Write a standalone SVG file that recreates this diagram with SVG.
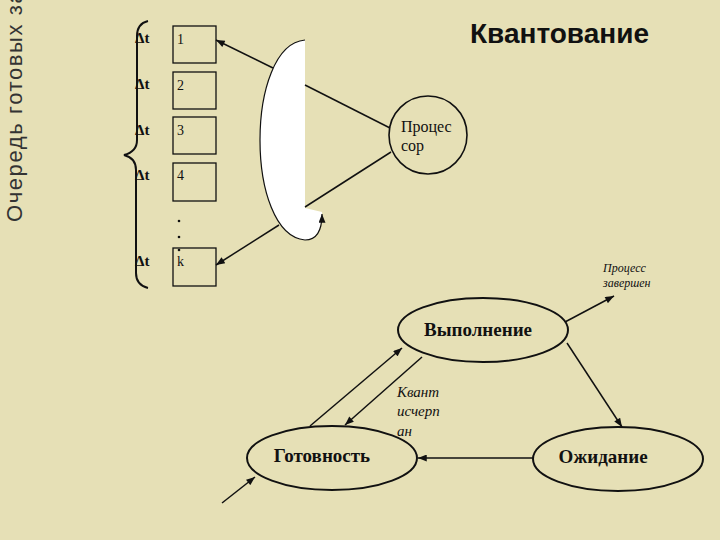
<svg xmlns="http://www.w3.org/2000/svg" width="720" height="540" viewBox="0 0 720 540">
<defs>
<marker id="ah" viewBox="0 0 10 8" refX="10" refY="4" markerUnits="userSpaceOnUse" markerWidth="10" markerHeight="7" orient="auto">
<path d="M0,0 L10,4 L0,8 Z" fill="#111"/>
</marker>
</defs>
<style>
.ln{stroke:#111;stroke-width:1.5;fill:none}
.box{fill:none;stroke:#111;stroke-width:1.3}
.num{font-family:"Liberation Serif",serif;font-size:14px;fill:#111}
.dt{font-family:"Liberation Serif",serif;font-size:15px;font-weight:bold;fill:#111}
.st{fill:none;stroke:#111;stroke-width:2}
.stt{font-family:"Liberation Serif",serif;font-size:19px;font-weight:bold;fill:#111;text-anchor:middle}
.it{font-family:"Liberation Serif",serif;font-style:italic;fill:#111}
</style>
<rect width="720" height="540" fill="#E6E0B6"/>
<text transform="translate(22,222) rotate(-90)" font-family="Liberation Sans, Arial, sans-serif" font-size="22" letter-spacing="1.6" fill="#333">Очередь готовых за</text>
<text x="470" y="43" font-family="Liberation Sans, Arial, sans-serif" font-size="28" font-weight="bold" fill="#111">Квантование</text>

<g id="brace">
<path class="ln" style="stroke-width:2" d="M148,21 C140,23 137,28 137,36 L137,140 C137,148 132,153 124,155 C132,157 136,162 136,170 L136,273 C136,281 140,286 148,288"/>
</g>

<g id="queue">
<g id="q1"><text class="dt" x="135" y="43">Δt</text><rect class="box" x="173" y="26" width="43" height="37"/><text class="num" x="177" y="44">1</text></g>
<g id="q2"><text class="dt" x="135" y="89">Δt</text><rect class="box" x="173" y="72" width="43" height="37"/><text class="num" x="177" y="90">2</text></g>
<g id="q3"><text class="dt" x="135" y="135">Δt</text><rect class="box" x="173" y="117" width="43" height="37"/><text class="num" x="177" y="135">3</text></g>
<g id="q4"><text class="dt" x="135" y="180">Δt</text><rect class="box" x="173" y="163" width="43" height="38"/><text class="num" x="177" y="180">4</text></g>
<g id="dots"><circle cx="179" cy="221" r="1.3" fill="#111"/><circle cx="179" cy="237" r="1.3" fill="#111"/><circle cx="179" cy="250" r="1.3" fill="#111"/></g>
<g id="qk"><text class="dt" x="135" y="266">Δt</text><rect class="box" x="173" y="248" width="43" height="38"/><text class="num" x="177" y="266">k</text></g>
</g>

<g id="rotor">
<path d="M305,40 C245,45 245,235 305,240 C316,240 322,230 322,212 L305,208 Z" fill="#fff"/>
<path d="M305,40 C245,45 245,235 305,240 C316,240 322,231 322,214" fill="none" stroke="#111" stroke-width="1.2" marker-end="url(#ah)"/>
</g>

<g id="processor">
<circle cx="428" cy="135" r="39" fill="none" stroke="#111" stroke-width="1.6"/>
<text x="401" y="132" font-family="Liberation Serif, serif" font-size="16" fill="#111">Процес</text>
<text x="401" y="151" font-family="Liberation Serif, serif" font-size="16" fill="#111">сор</text>
</g>

<g id="run"><ellipse class="st" cx="483" cy="330" rx="85" ry="32"/><text class="stt" x="478" y="336">Выполнение</text></g>
<g id="ready"><ellipse class="st" cx="332" cy="458" rx="85" ry="32"/><text class="stt" x="322" y="462">Готовность</text></g>
<g id="wait"><ellipse class="st" cx="618" cy="459" rx="85" ry="32"/><text class="stt" x="603" y="463">Ожидание</text></g>

<g id="labels">
<text class="it" font-size="12" x="603" y="272">Процесс</text>
<text class="it" font-size="12" x="603" y="287">завершен</text>
<text class="it" font-size="15" x="397" y="397">Квант</text>
<text class="it" font-size="15" x="397" y="416">исчерп</text>
<text class="it" font-size="15" x="397" y="436">ан</text>
</g>

<g id="connectors">
<line class="ln" x1="273" y1="68" x2="216" y2="40" marker-end="url(#ah)"/>
<line class="ln" x1="279" y1="225" x2="216" y2="265" marker-end="url(#ah)"/>
<line class="ln" x1="305" y1="85" x2="390" y2="128"/>
<line class="ln" x1="305" y1="207" x2="391" y2="152"/>
<line class="ln" x1="565" y1="322" x2="614" y2="296" marker-end="url(#ah)"/>
<line class="ln" x1="567" y1="343" x2="622" y2="427" marker-end="url(#ah)"/>
<line class="ln" x1="533" y1="458" x2="418" y2="458" marker-end="url(#ah)"/>
<line class="ln" x1="310" y1="426" x2="402" y2="348" marker-end="url(#ah)"/>
<line class="ln" x1="422" y1="357" x2="345" y2="425" marker-end="url(#ah)"/>
<line class="ln" x1="222" y1="503" x2="255" y2="477" marker-end="url(#ah)"/>
</g>
</svg>
